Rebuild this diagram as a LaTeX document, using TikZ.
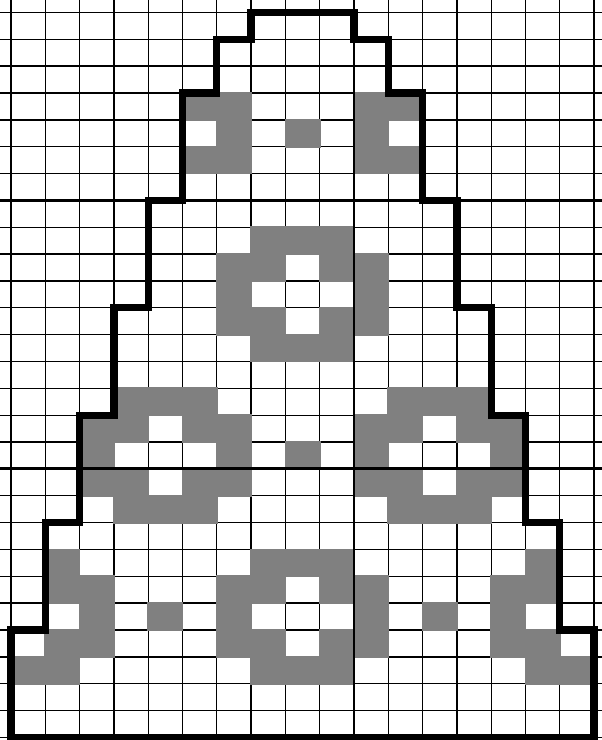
\documentclass[tikz,border=0pt]{standalone}
\definecolor{cellgray}{RGB}{128,128,128}
\tikzset{
  thingrid/.style={line width=0.75pt, black},
  thickgrid/.style={line width=1.7pt, black},
  outlinepath/.style={line width=4.2pt, black, line join=miter, line cap=rect},
}
\begin{document}
\begin{tikzpicture}[x=0.686cm,y=0.537cm]
\useasboundingbox (-0.3207,-0.0968) rectangle (17.2303,27.464);
\fill[white] (-0.3207,-0.0968) rectangle (17.2303,27.464);
\begin{scope}
\clip (-0.3207,-0.0968) rectangle (17.2303,27.464);
% thin grid
\foreach \i in {-1,...,18} \draw[thingrid] (\i,-1) -- (\i,28);
\foreach \j in {-1,...,28} \draw[thingrid] (-1,\j) -- (18,\j);
% gray cells
\foreach \c/\r in {
  5/23,6/23,6/22,5/21,6/21, 10/23,11/23,10/22,10/21,11/21, 8/22,
  7/18,8/18,9/18, 6/17,7/17,9/17,10/17, 6/16,10/16, 6/15,7/15,9/15,10/15, 7/14,8/14,9/14,
  3/12,4/12,5/12, 2/11,3/11,5/11,6/11, 2/10,6/10, 2/9,3/9,5/9,6/9, 3/8,4/8,5/8,
  11/12,12/12,13/12, 10/11,11/11,13/11,14/11, 10/10,14/10, 10/9,11/9,13/9,14/9, 11/8,12/8,13/8,
  8/10,
  7/6,8/6,9/6, 6/5,7/5,9/5,10/5, 6/4,10/4, 6/3,7/3,9/3,10/3, 7/2,8/2,9/2,
  1/6,1/5,2/5,2/4,1/3,2/3,0/2,1/2,
  15/6,15/5,14/5,14/4,15/3,14/3,16/2,15/2,
  4/4,12/4}
  \fill[cellgray] (\c-0.025,\r-0.035) rectangle (\c+1.025,\r+1.035);
% thick grid lines
\draw[thickgrid] (0,-1) -- (0,28);
\draw[thickgrid] (10,-1) -- (10,28);
\draw[thickgrid] (-1,10) -- (18,10);
\draw[thickgrid] (-1,20) -- (18,20);
\end{scope}
% outline
\draw[outlinepath] (0,0) -- (0,4) -- (1,4) -- (1,8) -- (2,8) -- (2,12) -- (3,12) -- (3,16) -- (4,16) -- (4,20) -- (5,20) -- (5,24) -- (6,24) -- (6,26) -- (7,26) -- (7,27) -- (10,27) -- (10,26) -- (11,26) -- (11,24) -- (12,24) -- (12,20) -- (13,20) -- (13,16) -- (14,16) -- (14,12) -- (15,12) -- (15,8) -- (16,8) -- (16,4) -- (17,4) -- (17,0) -- cycle;
\end{tikzpicture}
\end{document}
